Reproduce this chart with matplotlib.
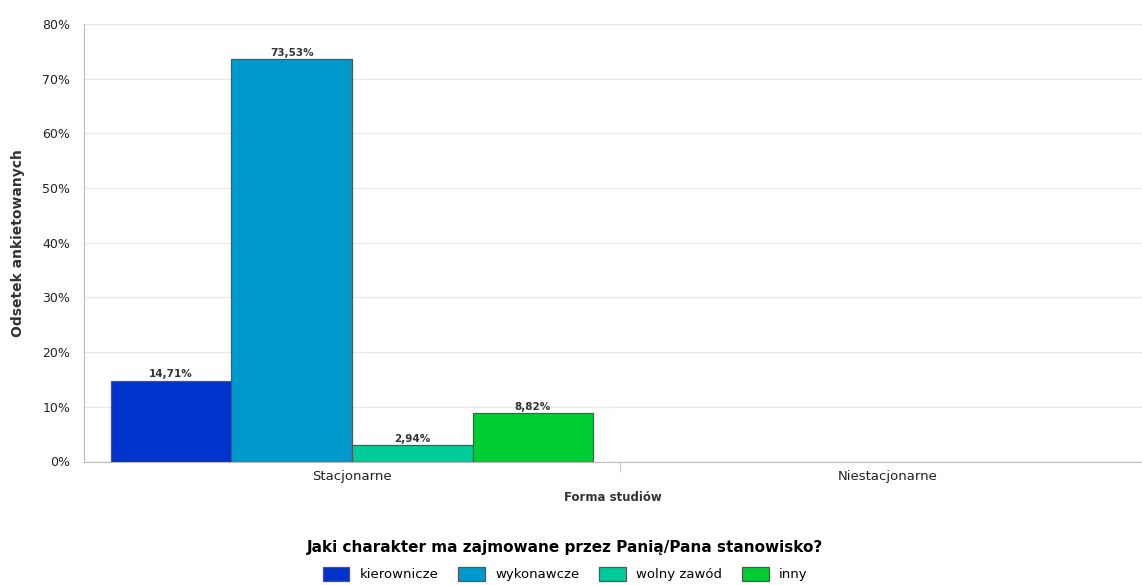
import matplotlib.pyplot as plt
import numpy as np

# data
categories = ['Stacjonarne', 'Niestacjonarne']
series = ['kierownicze', 'wykonawcze', 'wolny zawód', 'inny']
values = [
    [14.71, 0],
    [73.53, 0],
    [2.94, 0],
    [8.82, 0],
]
shown = [[True, False]] * 4
colors = ['#0033CC', '#0099CC', '#00CC99', '#00CC33']

fig = plt.figure(figsize=(11.42, 5.85), dpi=100)
ax = fig.add_axes([84 / 1142, 1 - 461.5 / 585, 1 - 84 / 1142, (461.5 - 24) / 585])

x = np.arange(len(categories))
w = 0.225
for i, (name, vals) in enumerate(zip(series, values)):
    pos = x + (i - 1.5) * w
    for j in range(len(categories)):
        if not shown[i][j]:
            continue
        ax.bar(pos[j], vals[j], w, color=colors[i], edgecolor='#555555', linewidth=0.9, zorder=3)
        ax.text(pos[j], vals[j] + 0.3, f'{vals[j]:.2f}%'.replace('.', ','),
                ha='center', va='bottom', fontsize=7.5, fontweight='bold', color='#333333')

ax.set_xlim(-0.5, 1.474)
ax.set_ylim(0, 80)
ax.set_yticks(range(0, 81, 10))
ax.set_yticklabels([f'{v}%' for v in range(0, 81, 10)], fontsize=9, color='#222222')
ax.set_xticks(x)
ax.set_xticklabels(categories, fontsize=9.5, color='#222222')
ax.set_xticks([0.5], minor=True)
ax.tick_params(axis='x', which='major', length=0, pad=6)
ax.tick_params(axis='x', which='minor', length=7, color='#bbbbbb')
ax.tick_params(axis='y', length=0, pad=10)
ax.grid(axis='y', color='#e8e8e8', linewidth=0.9, zorder=0)
for s in ['top', 'right']:
    ax.spines[s].set_visible(False)
ax.spines['left'].set_color('#bbbbbb')
ax.spines['bottom'].set_color('#bbbbbb')

ax.set_ylabel('Odsetek ankietowanych', fontsize=10, fontweight='bold', color='#333333', labelpad=12)
ax.set_xlabel('Forma studiów', fontsize=8.5, fontweight='bold', color='#333333', labelpad=6)

handles = [plt.Rectangle((0, 0), 1, 1, facecolor=c, edgecolor='#555555', linewidth=0.9) for c in colors]
leg = fig.legend(handles, series, loc='lower center', bbox_to_anchor=(0.495, -0.014), ncol=4,
                 frameon=False, fontsize=9.5, title='Jaki charakter ma zajmowane przez Panią/Pana stanowisko?',
                 handlelength=2.0, handleheight=1.2, handletextpad=0.8, columnspacing=1.5)
leg.get_title().set_fontweight('bold')
leg.get_title().set_fontsize(11)
leg._legend_box.sep = 9

plt.savefig('out.png', dpi=100)
